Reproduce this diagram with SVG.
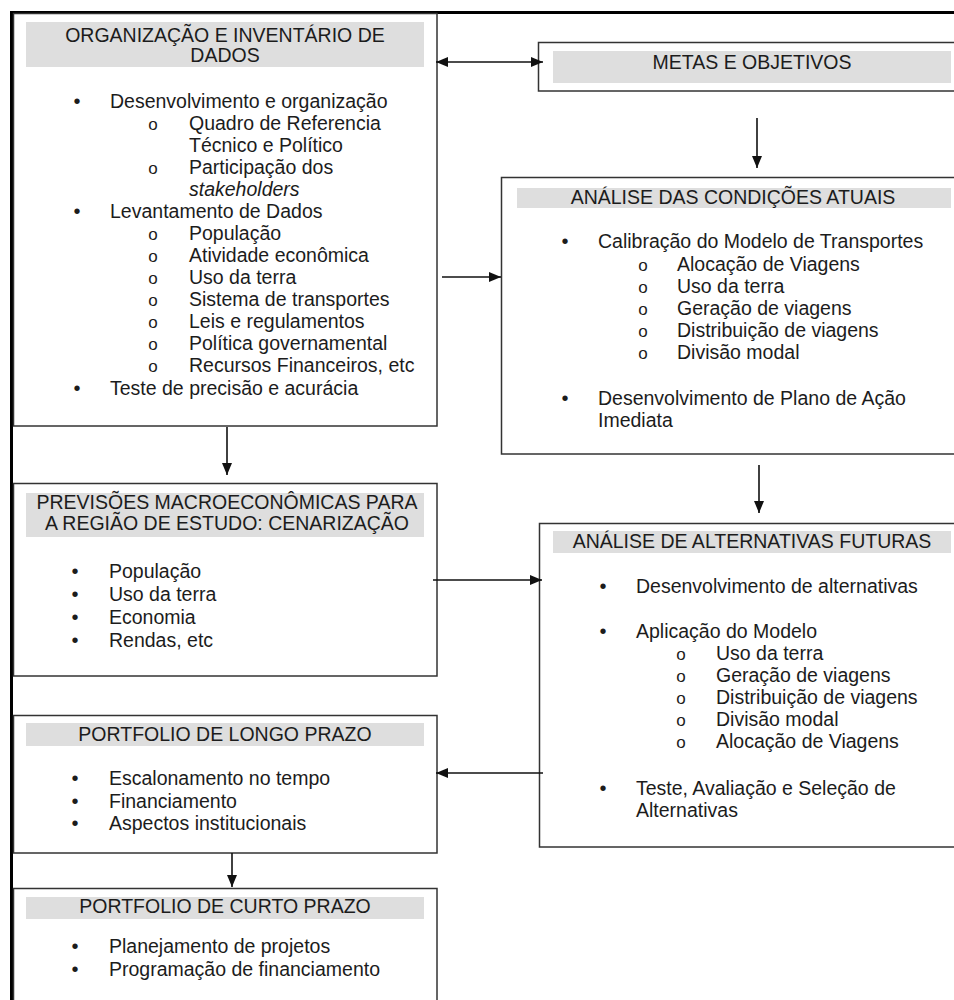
<svg xmlns="http://www.w3.org/2000/svg" width="954" height="1000" viewBox="0 0 954 1000">
<style>
  .box { fill: #ffffff; stroke: #333333; stroke-width: 1.5; }
  .bar { fill: #dedede; stroke: none; }
  .t { font-family: "Liberation Sans", Arial, sans-serif; font-size: 19.5px; fill: #1c1c1c; }
  .h { text-anchor: middle; }
  .b { font-family: "Liberation Sans", Arial, sans-serif; font-size: 20px; fill: #1c1c1c; text-anchor: middle; }
  .o { font-family: "Liberation Sans", Arial, sans-serif; font-size: 17px; fill: #1c1c1c; text-anchor: middle; }
  .it { font-style: italic; }
  .frame { stroke: #000000; stroke-width: 3; fill: none; }
  .conn { stroke: #111111; stroke-width: 1.6; fill: none; }
</style>
<defs>
  <marker id="ah" markerUnits="userSpaceOnUse" markerWidth="13" markerHeight="11" refX="12" refY="5.5" orient="auto-start-reverse">
    <path d="M0,0.5 L12,5.5 L0,10.5 z" fill="#111111"/>
  </marker>
</defs>
<rect width="954" height="1000" fill="#ffffff"/>
<path class="frame" d="M954,12.5 L11.5,12.5 L11.5,1000"/>

<g id="n1">
  <rect class="box" x="13.5" y="13.5" width="423.5" height="412.5"/>
  <rect class="bar" x="26" y="22" width="398" height="45"/>
  <text class="t h" x="225" y="42">ORGANIZAÇÃO E INVENTÁRIO DE</text>
  <text class="t h" x="225" y="62">DADOS</text>
  <text class="b" x="77" y="108">•</text>
  <text class="t" x="110" y="108">Desenvolvimento e organização</text>
  <text class="o" x="153" y="130">o</text>
  <text class="t" x="189" y="130">Quadro de Referencia</text>
  <text class="t" x="189" y="152">Técnico e Político</text>
  <text class="o" x="153" y="174">o</text>
  <text class="t" x="189" y="174">Participação dos</text>
  <text class="t it" x="189" y="196">stakeholders</text>
  <text class="b" x="77" y="218">•</text>
  <text class="t" x="110" y="218">Levantamento de Dados</text>
  <text class="o" x="153" y="240">o</text>
  <text class="t" x="189" y="240">População</text>
  <text class="o" x="153" y="262">o</text>
  <text class="t" x="189" y="262">Atividade econômica</text>
  <text class="o" x="153" y="284">o</text>
  <text class="t" x="189" y="284">Uso da terra</text>
  <text class="o" x="153" y="306">o</text>
  <text class="t" x="189" y="306">Sistema de transportes</text>
  <text class="o" x="153" y="328">o</text>
  <text class="t" x="189" y="328">Leis e regulamentos</text>
  <text class="o" x="153" y="350">o</text>
  <text class="t" x="189" y="350">Política governamental</text>
  <text class="o" x="153" y="372">o</text>
  <text class="t" x="189" y="372">Recursos Financeiros, etc</text>
  <text class="b" x="77" y="395">•</text>
  <text class="t" x="110" y="395">Teste de precisão e acurácia</text>
</g>

<g id="n2">
  <rect class="box" x="538.5" y="42.5" width="430" height="48.5"/>
  <rect class="bar" x="553" y="51" width="398" height="32"/>
  <text class="t h" x="752" y="69">METAS E OBJETIVOS</text>
</g>

<g id="n3">
  <rect class="box" x="501.5" y="177.5" width="470" height="276.5"/>
  <rect class="bar" x="517" y="188" width="434" height="20"/>
  <text class="t h" x="733" y="204">ANÁLISE DAS CONDIÇÕES ATUAIS</text>
  <text class="b" x="565" y="248">•</text>
  <text class="t" x="598" y="248">Calibração do Modelo de Transportes</text>
  <text class="o" x="643" y="271">o</text>
  <text class="t" x="677" y="271">Alocação de Viagens</text>
  <text class="o" x="643" y="293">o</text>
  <text class="t" x="677" y="293">Uso da terra</text>
  <text class="o" x="643" y="315">o</text>
  <text class="t" x="677" y="315">Geração de viagens</text>
  <text class="o" x="643" y="337">o</text>
  <text class="t" x="677" y="337">Distribuição de viagens</text>
  <text class="o" x="643" y="359">o</text>
  <text class="t" x="677" y="359">Divisão modal</text>
  <text class="b" x="565" y="405">•</text>
  <text class="t" x="598" y="405">Desenvolvimento de Plano de Ação</text>
  <text class="t" x="598" y="427">Imediata</text>
</g>

<g id="n4">
  <rect class="box" x="13.5" y="483.5" width="423.5" height="192.5"/>
  <rect class="bar" x="26" y="493" width="398" height="44"/>
  <text class="t h" x="227" y="509">PREVISÕES MACROECONÔMICAS PARA</text>
  <text class="t h" x="227" y="530">A REGIÃO DE ESTUDO: CENARIZAÇÃO</text>
  <text class="b" x="75" y="578">•</text>
  <text class="t" x="109" y="578">População</text>
  <text class="b" x="75" y="601">•</text>
  <text class="t" x="109" y="601">Uso da terra</text>
  <text class="b" x="75" y="624">•</text>
  <text class="t" x="109" y="624">Economia</text>
  <text class="b" x="75" y="647">•</text>
  <text class="t" x="109" y="647">Rendas, etc</text>
</g>

<g id="n5">
  <rect class="box" x="539.5" y="523.5" width="430" height="323.5"/>
  <rect class="bar" x="553" y="531" width="398" height="22"/>
  <text class="t h" x="752" y="548">ANÁLISE DE ALTERNATIVAS FUTURAS</text>
  <text class="b" x="603" y="593">•</text>
  <text class="t" x="636" y="593">Desenvolvimento de alternativas</text>
  <text class="b" x="603" y="638">•</text>
  <text class="t" x="636" y="638">Aplicação do Modelo</text>
  <text class="o" x="681" y="660">o</text>
  <text class="t" x="716" y="660">Uso da terra</text>
  <text class="o" x="681" y="682">o</text>
  <text class="t" x="716" y="682">Geração de viagens</text>
  <text class="o" x="681" y="704">o</text>
  <text class="t" x="716" y="704">Distribuição de viagens</text>
  <text class="o" x="681" y="726">o</text>
  <text class="t" x="716" y="726">Divisão modal</text>
  <text class="o" x="681" y="748">o</text>
  <text class="t" x="716" y="748">Alocação de Viagens</text>
  <text class="b" x="603" y="795">•</text>
  <text class="t" x="636" y="795">Teste, Avaliação e Seleção de</text>
  <text class="t" x="636" y="817">Alternativas</text>
</g>

<g id="n6">
  <rect class="box" x="13.5" y="715.5" width="423.5" height="137.5"/>
  <rect class="bar" x="26" y="723" width="398" height="23"/>
  <text class="t h" x="225" y="741">PORTFOLIO DE LONGO PRAZO</text>
  <text class="b" x="75" y="785">•</text>
  <text class="t" x="109" y="785">Escalonamento no tempo</text>
  <text class="b" x="75" y="808">•</text>
  <text class="t" x="109" y="808">Financiamento</text>
  <text class="b" x="75" y="830">•</text>
  <text class="t" x="109" y="830">Aspectos institucionais</text>
</g>

<g id="n7">
  <rect class="box" x="13.5" y="888.5" width="423.5" height="130"/>
  <rect class="bar" x="26" y="897" width="398" height="22"/>
  <text class="t h" x="225" y="913">PORTFOLIO DE CURTO PRAZO</text>
  <text class="b" x="75" y="953">•</text>
  <text class="t" x="109" y="953">Planejamento de projetos</text>
  <text class="b" x="75" y="976">•</text>
  <text class="t" x="109" y="976">Programação de financiamento</text>
</g>

<g id="connectors">
  <line class="conn" x1="436" y1="62" x2="543" y2="62" marker-start="url(#ah)" marker-end="url(#ah)"/>
  <line class="conn" x1="757" y1="118" x2="757" y2="168" marker-end="url(#ah)"/>
  <line class="conn" x1="442" y1="277" x2="501" y2="277" marker-end="url(#ah)"/>
  <line class="conn" x1="759" y1="465" x2="759" y2="513" marker-end="url(#ah)"/>
  <line class="conn" x1="227" y1="427" x2="227" y2="475" marker-end="url(#ah)"/>
  <line class="conn" x1="433" y1="580" x2="542" y2="580" marker-end="url(#ah)"/>
  <line class="conn" x1="543" y1="773" x2="436" y2="773" marker-end="url(#ah)"/>
  <line class="conn" x1="232" y1="853" x2="232" y2="887" marker-end="url(#ah)"/>
</g>
</svg>
